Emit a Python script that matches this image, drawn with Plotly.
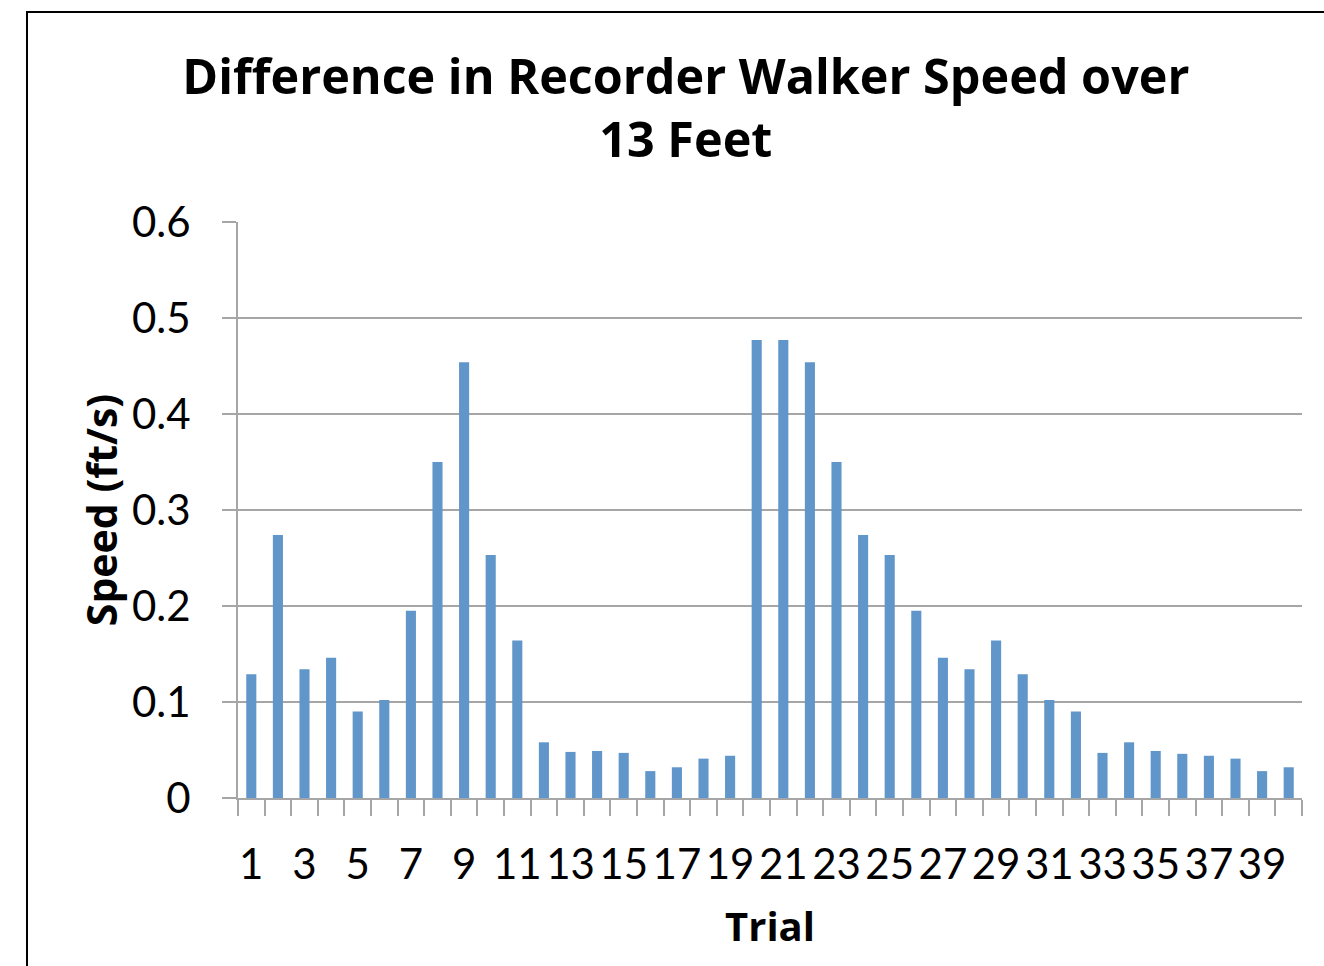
import plotly.graph_objects as go

trials = list(range(1, 41))
speed = [0.129, 0.274, 0.134, 0.146, 0.090, 0.102, 0.195, 0.350, 0.454, 0.253,
         0.164, 0.058, 0.048, 0.049, 0.047, 0.028, 0.032, 0.041, 0.044, 0.477,
         0.477, 0.454, 0.350, 0.274, 0.253, 0.195, 0.146, 0.134, 0.164, 0.129,
         0.102, 0.090, 0.047, 0.058, 0.049, 0.046, 0.044, 0.041, 0.028, 0.032]
x_tick_vals = list(range(1, 41, 2))
x_tick_text = [str(v) for v in x_tick_vals]
y_tick_vals = [0, 0.1, 0.2, 0.3, 0.4, 0.5, 0.6]
y_tick_text = ["0", "0.1", "0.2", "0.3", "0.4", "0.5", "0.6"]

TICK_FONT = "Lato"
BOLD_FONT = "Open Sans"
GRID = "#a6a6a6"

fig = go.Figure(go.Bar(x=trials, y=speed, width=0.38,
                       marker=dict(color="#6196CA", line=dict(width=0))))

fig.update_layout(
    width=1324, height=966,
    margin=dict(l=238, r=22, t=222, b=168),
    paper_bgcolor="white", plot_bgcolor="white",
    font=dict(family=TICK_FONT, color="black"),
    showlegend=False,
    title=dict(text="<b>Difference in Recorder Walker Speed over<br>13 Feet</b>",
               x=0.518, xanchor="center", y=0.903, yanchor="top",
               font=dict(size=48.5, family=BOLD_FONT, color="black")),
    xaxis=dict(range=[0.5, 40.5], tickmode="array", tickvals=x_tick_vals,
               ticktext=x_tick_text, ticks="", showgrid=False,
               showline=True, linecolor=GRID, linewidth=2,
               tickfont=dict(size=42, family=TICK_FONT), ticklabelstandoff=29,
               minor=dict(tick0=0.5, dtick=1, ticks="outside", ticklen=16,
                          tickcolor=GRID, tickwidth=2, showgrid=False),
               title=dict(text="<b>Trial</b>", font=dict(size=40, family=BOLD_FONT),
                          standoff=26),
               zeroline=False),
    yaxis=dict(range=[0, 0.6], tickmode="array", tickvals=y_tick_vals,
               ticktext=y_tick_text, ticks="outside", ticklen=14,
               tickcolor=GRID, tickwidth=2,
               showgrid=True, gridcolor=GRID, gridwidth=2,
               showline=True, linecolor=GRID, linewidth=2,
               tickfont=dict(size=42, family=TICK_FONT), ticklabelstandoff=23,
               title=dict(text="<b>Speed (ft/s)</b>", font=dict(size=41, family=BOLD_FONT),
                          standoff=2),
               zeroline=False),
)

# outer chart border (partially cropped in the reference)
fig.add_shape(type="rect", xref="paper", yref="paper",
              x0=(27 - 238) / 1064, x1=(1340 - 238) / 1064,
              y0=(798 - 990) / 576, y1=(798 - 12) / 576,
              line=dict(color="black", width=2), fillcolor="rgba(0,0,0,0)",
              layer="below")

fig.write_html("out.html", config={"displayModeBar": False},
               post_script="document.body.style.margin='0';")
